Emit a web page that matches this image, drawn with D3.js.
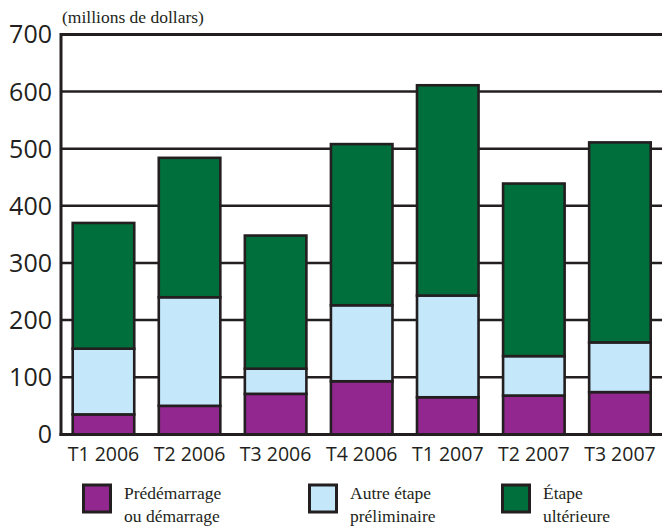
<!DOCTYPE html>
<html>
<head>
<meta charset="utf-8">
<script src="https://cdn.jsdelivr.net/npm/d3@7/dist/d3.min.js"></script>
<style>
  html, body { margin: 0; padding: 0; background: #fff; }
  svg { display: block; }
  .serif { font-family: "Liberation Serif", "Times New Roman", Times, "DejaVu Serif", serif; }
</style>
</head>
<body>
<svg id="chart" width="662" height="527"></svg>
<script>
// Quarterly venture capital investment by stage (millions of dollars)
const quarters = ["T1 2006", "T2 2006", "T3 2006", "T4 2006", "T1 2007", "T2 2007", "T3 2007"];
const preStart = [35, 50, 71, 93, 65, 68, 74];          // Prédémarrage ou démarrage
const otherEarly = [115, 190, 44, 133, 178, 69, 87];     // Autre étape préliminaire
const laterStage = [220, 244, 233, 282, 368, 302, 350];  // Étape ultérieure
const yTicks = [0, 100, 200, 300, 400, 500, 600, 700];

const seriesKeys = ["pre", "other", "later"];
const seriesNames = [["Prédémarrage", "ou démarrage"], ["Autre étape", "préliminaire"], ["Étape", "ultérieure"]];
const colors = { pre: "#92278f", other: "#c4e8fa", later: "#006f3b" };
const ink = "#231f20";

const rows = quarters.map((q, i) => ({ q, pre: preStart[i], other: otherEarly[i], later: laterStage[i] }));

const svg = d3.select("#chart");
const plotLeft = 61, plotRight = 662.4, plotTop = 34.4, plotBottom = 434.4;

const x = d3.scaleBand().domain(quarters).range([plotLeft, plotRight]).paddingInner(0.285).paddingOuter(0.136);
const y = d3.scaleLinear().domain([0, 700]).range([plotBottom, plotTop]);

// horizontal gridlines
svg.append("g")
  .selectAll("line")
  .data(yTicks.filter(d => d > 0))
  .join("line")
  .attr("x1", plotLeft).attr("x2", 662)
  .attr("y1", d => y(d)).attr("y2", d => y(d))
  .attr("stroke", ink).attr("stroke-width", d => d === 700 ? 3 : 2.5);

// y tick labels
svg.append("g")
  .selectAll("text")
  .data(yTicks)
  .join("text")
  .attr("x", 52).attr("y", d => y(d))
  .attr("dy", "0.36em")
  .attr("text-anchor", "end")
  .attr("font-family", "'Open Sans', sans-serif")
  .attr("font-size", 25)
  .attr("fill", ink)
  .text(d => d);

// stacked bars
const stacked = d3.stack().keys(seriesKeys)(rows);
svg.append("g")
  .selectAll("g")
  .data(stacked)
  .join("g")
  .attr("fill", d => colors[d.key])
  .selectAll("rect")
  .data(d => d)
  .join("rect")
  .attr("x", d => x(d.data.q))
  .attr("width", x.bandwidth())
  .attr("y", d => y(d[1]))
  .attr("height", d => y(d[0]) - y(d[1]))
  .attr("stroke", ink)
  .attr("stroke-width", 2.6);

// axis lines
svg.append("line")
  .attr("x1", plotLeft).attr("x2", plotLeft)
  .attr("y1", plotTop - 1.5).attr("y2", plotBottom + 1.5)
  .attr("stroke", ink).attr("stroke-width", 3);
svg.append("line")
  .attr("x1", plotLeft - 1.5).attr("x2", 662)
  .attr("y1", plotBottom).attr("y2", plotBottom)
  .attr("stroke", ink).attr("stroke-width", 3);

// x tick labels
svg.append("g")
  .selectAll("text")
  .data(quarters)
  .join("text")
  .attr("x", d => x(d) + x.bandwidth() / 2)
  .attr("y", 461)
  .attr("text-anchor", "middle")
  .attr("font-family", "'Open Sans', sans-serif")
  .attr("font-size", 19.5)
  .attr("fill", ink)
  .text(d => d);

// unit label, sized so it spans the width of the serif caption
const unit = svg.append("text")
  .attr("class", "serif")
  .attr("x", 62).attr("y", 23)
  .attr("font-size", 17)
  .attr("fill", ink)
  .text("(millions de dollars)");
const serifSize = Math.min(18, 17 * 142 / unit.node().getComputedTextLength());
unit.attr("font-size", serifSize);

// legend
const legendX = [82, 308, 501];
const legend = svg.append("g")
  .selectAll("g")
  .data(seriesKeys)
  .join("g")
  .attr("transform", (d, i) => `translate(${legendX[i]},483.5)`);
legend.append("rect")
  .attr("x", 1.5).attr("y", 1.5)
  .attr("width", 27).attr("height", 27)
  .attr("fill", d => colors[d])
  .attr("stroke", ink).attr("stroke-width", 3);
legend.each(function (d, i) {
  const t = d3.select(this).append("text")
    .attr("class", "serif")
    .attr("font-size", serifSize)
    .attr("fill", ink);
  seriesNames[i].forEach((line, j) => {
    t.append("tspan").attr("x", 42).attr("y", 15.5 + j * 22.5).text(line);
  });
});
</script>
</body>
</html>
